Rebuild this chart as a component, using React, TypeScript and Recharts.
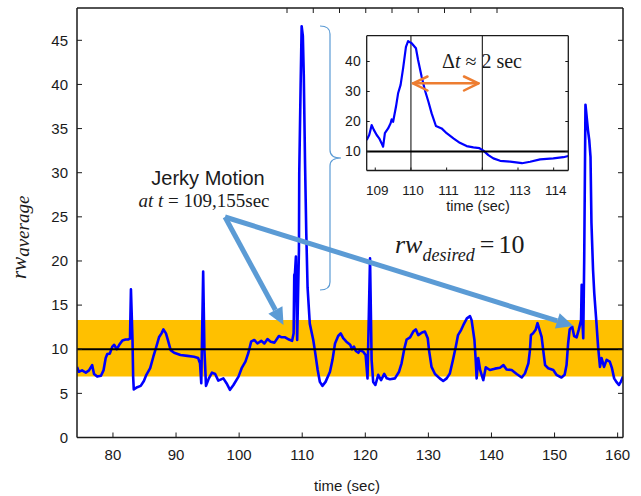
import { LineChart, Line, XAxis, YAxis, ReferenceArea, ReferenceLine } from 'recharts'

// main trace: time (sec) and rw_average
const TIME = [
  74.3, 74.6, 75.1, 75.7, 76.2, 76.7, 77.0, 77.5, 78.1, 78.5, 78.85, 79.1, 79.5, 79.9, 80.2, 80.6, 81.0, 81.5, 82.0, 82.4,
  82.7, 82.85, 83.1, 83.2, 83.3, 83.85, 84.4, 84.9, 85.3, 85.9, 86.4, 86.8, 87.3, 87.7, 88.0, 88.4, 88.7, 89.15, 89.7, 90.7,
  91.8, 92.85, 93.5, 93.8, 94.0, 94.3, 94.5, 94.75, 95.2, 95.7, 96.2, 96.7, 97.5, 98.0, 98.55, 99.1, 99.9, 100.4, 101.0, 101.45,
  101.9, 102.4, 102.9, 103.5, 104.0, 104.5, 105.0, 105.6, 106.3, 106.75, 107.3, 107.9, 108.4, 108.64, 108.74, 108.85, 109.0, 109.2, 109.48, 109.53,
  109.75, 109.91, 110.1, 110.25, 110.45, 110.65, 110.85, 111.2, 111.75, 112.0, 112.45, 112.8, 113.2, 113.7, 114.4, 114.8, 115.2, 115.7, 116.1, 116.5,
  117.0, 117.6, 117.9, 118.2, 118.5, 118.9, 119.15, 119.7, 120.05, 120.35, 120.75, 121.0, 121.25, 121.6, 122.05, 122.5, 123.0, 123.4, 123.9, 124.7,
  125.35, 125.75, 126.2, 126.55, 127.1, 127.6, 128.0, 128.4, 129.0, 129.45, 129.9, 130.1, 130.5, 131.05, 131.8, 132.35, 132.9, 133.4, 133.9, 134.35,
  134.7, 135.2, 135.55, 136.1, 136.6, 136.85, 137.3, 137.5, 137.65, 137.9, 138.2, 138.7, 139.1, 139.75, 140.55, 141.35, 141.9, 142.4, 143.2, 144.0,
  144.8, 145.3, 145.85, 146.1, 146.25, 146.6, 147.0, 147.3, 147.7, 147.95, 148.2, 148.5, 149.0, 149.8, 150.3, 151.1, 151.6, 151.9, 152.15, 152.4,
  152.8, 153.1, 153.5, 153.85, 154.2, 154.3, 154.4, 154.55, 154.7, 154.9, 155.3, 155.5, 155.7, 155.85, 156.1, 156.3, 156.65, 156.9, 157.2, 157.45,
  157.85, 158.25, 158.75, 159.1, 159.45, 159.8, 160.2, 160.5, 160.85,
]
const RW_AVERAGE = [
  8.0, 7.45, 7.6, 7.35, 7.6, 8.2, 7.2, 6.9, 7.0, 7.6, 9.0, 9.45, 9.5, 10.3, 10.5, 10.0, 10.5, 11.0, 11.1, 11.1,
  11.2, 16.8, 11.0, 6.9, 5.45, 5.7, 5.85, 6.4, 7.1, 7.85, 9.15, 10.1, 11.35, 11.8, 12.25, 11.8, 11.05, 9.9, 9.6, 9.35,
  9.25, 9.15, 9.0, 8.4, 6.15, 18.8, 9.9, 5.85, 6.7, 7.35, 7.2, 6.45, 6.7, 6.15, 5.4, 5.95, 6.9, 7.85, 8.6, 9.55,
  10.85, 11.05, 10.65, 10.95, 10.65, 11.15, 10.85, 10.75, 11.5, 11.35, 11.35, 11.1, 10.95, 11.8, 18.4, 18.6, 20.5, 11.05, 21.2, 30,
  40, 46.6, 45.5, 41, 31, 23, 17, 12.9, 11.05, 9.9, 7.65, 6.3, 5.85, 6.3, 7.45, 8.8, 10.65, 11.5, 11.8, 11.25,
  10.85, 10.5, 10.0, 10.3, 9.8, 9.6, 9.9, 9.7, 9.35, 6.7, 20.3, 8.8, 6.3, 5.95, 7.1, 6.5, 7.2, 6.7, 6.6, 6.7,
  7.45, 8.4, 10.1, 11.1, 11.35, 12.0, 12.25, 11.6, 11.9, 12.0, 11.25, 9.9, 8.0, 7.2, 6.7, 6.4, 6.7, 7.25, 8.8, 10.3,
  11.6, 12.2, 12.75, 13.5, 13.75, 13.3, 11.05, 8.8, 6.7, 9.0, 7.65, 6.5, 7.95, 7.65, 7.8, 7.9, 8.2, 7.7, 7.65, 7.2,
  6.8, 7.25, 8.4, 9.9, 11.6, 11.8, 12.2, 12.95, 12.0, 11.4, 9.9, 8.2, 7.85, 7.65, 7.1, 6.8, 7.1, 8.2, 10.65, 12.25,
  12.55, 11.5, 11.35, 12.25, 13.3, 17.3, 13.3, 11.25, 20.1, 37.7, 34.8, 33.7, 31.8, 24.3, 19.0, 16.3, 12.9, 10.3, 8.0, 9.0,
  8.0, 8.8, 8.6, 7.85, 6.7, 6.3, 5.95, 6.3, 6.9,
]

// zoomed inset around the jerk at t = 109..114
const INSET_TIME = [
  108.76, 108.83, 108.9, 108.96, 109.04, 109.11, 109.18, 109.22, 109.27, 109.36, 109.43, 109.46, 109.5, 109.58, 109.64,
  109.71, 109.78, 109.86, 109.92, 110.02, 110.14, 110.2, 110.3, 110.39, 110.49, 110.58, 110.7, 110.86, 111.0, 111.19,
  111.37, 111.56, 111.75, 111.92, 112.03, 112.17, 112.31, 112.5, 112.78, 113.11, 113.34, 113.62, 113.99, 114.27, 114.41,
]
const INSET_RW = [
  13.8, 15.5, 18.8, 17.2, 15.5, 14.4, 12.7, 11.6, 16.1, 17.7, 19.4, 20.7, 19.9, 24.9, 29.4,
  32.2, 37.7, 44.9, 46.8, 46.1, 44.4, 40.5, 34.9, 30.5, 26.6, 22.7, 18.5, 17.7, 16.1, 14.4,
  12.9, 11.8, 11.4, 11.1, 10.3, 8.8, 7.7, 6.9, 6.6, 6.1, 6.6, 7.4, 7.7, 8.1, 8.5,
]

const X_TICKS = [80, 90, 100, 110, 120, 130, 140, 150, 160]
const Y_TICKS = [0, 5, 10, 15, 20, 25, 30, 35, 40, 45]
const INSET_X_TICKS = [109, 110, 111, 112, 113, 114]
const INSET_Y_TICKS = [10, 20, 30, 40]
const COMFORT_BAND = [6.9, 13.3]
const RW_DESIRED = 10
const JERK_MARKS = [110, 112]

const INK = '#1a1a1a'
const BLUE = '#0000ff'
const ARROW = '#5b9bd5'
const SANS = '"Liberation Sans", Arial, sans-serif'
const SERIF = '"Liberation Serif", "Times New Roman", serif'

const mainData = TIME.map((t, i) => ({ t, rw: RW_AVERAGE[i] }))
const insetData = INSET_TIME.map((t, i) => ({ t, rw: INSET_RW[i] }))

type Side = 'bottom' | 'top' | 'left' | 'right'

// inward tick marks, label outside
function tickMark(side: Side, len: number, label?: { size: number; gap: number; shift?: number }) {
  return function Tick(props: any) {
    const { x, y, payload } = props
    const dx = side === 'left' ? len : side === 'right' ? -len : 0
    const dy = side === 'bottom' ? -len : side === 'top' ? len : 0
    return (
      <g>
        <line x1={x} y1={y} x2={x + dx} y2={y + dy} stroke={INK} strokeWidth={1} />
        {label && side === 'bottom' && (
          <text x={x + (label.shift ?? 0)} y={y + label.gap} textAnchor="middle" fontSize={label.size} fontFamily={SANS} fill={INK}>
            {payload.value}
          </text>
        )}
        {label && side === 'left' && (
          <text x={x - label.gap} y={y + label.size * 0.35} textAnchor="end" fontSize={label.size} fontFamily={SANS} fill={INK}>
            {payload.value}
          </text>
        )}
      </g>
    )
  }
}

function BlockArrow({ from, to }: { from: [number, number]; to: [number, number] }) {
  const [x1, y1] = from
  const [x2, y2] = to
  const len = Math.hypot(x2 - x1, y2 - y1)
  const ux = (x2 - x1) / len
  const uy = (y2 - y1) / len
  const head = 17
  const half = 8
  const bx = x2 - ux * head
  const by = y2 - uy * head
  return (
    <g>
      <line x1={x1} y1={y1} x2={bx} y2={by} stroke={ARROW} strokeWidth={5} />
      <polygon points={`${x2},${y2} ${bx - uy * half},${by + ux * half} ${bx + uy * half},${by - ux * half}`} fill={ARROW} />
    </g>
  )
}

const frame = { stroke: INK, strokeWidth: 1.5 }
const insetFrame = { stroke: INK, strokeWidth: 1.3 }

function MainChart() {
  return (
    <LineChart width={641} height={496} data={mainData} margin={{ top: 7, right: 17, bottom: 57.5, left: 76 }}>
      <XAxis dataKey="t" type="number" domain={[74.3, 160.85]} ticks={X_TICKS} interval={0} allowDataOverflow
        height={1} tickSize={0} tickMargin={0} axisLine={frame} tickLine={false} tick={tickMark('bottom', 5, { size: 15, gap: 22 })} />
      <XAxis xAxisId="top" orientation="top" type="number" domain={[74.3, 160.85]} ticks={X_TICKS} interval={0} allowDataOverflow
        height={1} tickSize={0} tickMargin={0} axisLine={frame} tickLine={false} tick={tickMark('top', 5)} />
      <YAxis type="number" domain={[0, 48.66]} ticks={Y_TICKS} interval={0} allowDataOverflow
        width={1} tickSize={0} tickMargin={0} axisLine={frame} tickLine={false} tick={tickMark('left', 5, { size: 15, gap: 9 })} />
      <YAxis yAxisId="right" orientation="right" type="number" domain={[0, 48.66]} ticks={Y_TICKS} interval={0} allowDataOverflow
        width={1} tickSize={0} tickMargin={0} axisLine={frame} tickLine={false} tick={tickMark('right', 5)} />
      <ReferenceArea y1={COMFORT_BAND[0]} y2={COMFORT_BAND[1]} fill="#ffc000" fillOpacity={1} stroke="none" />
      <Line dataKey="rw" type="linear" stroke={BLUE} strokeWidth={2.6} dot={false} activeDot={false} isAnimationActive={false} strokeLinejoin="round" />
      <ReferenceLine y={RW_DESIRED} stroke="#000" strokeWidth={2.2} />
    </LineChart>
  )
}

function InsetChart() {
  return (
    <LineChart width={260} height={200} data={insetData} margin={{ top: 14.7, right: 10.7, bottom: 48.5, left: 45.7 }}>
      <XAxis dataKey="t" type="number" domain={[108.76, 114.41]} ticks={INSET_X_TICKS} interval={0} allowDataOverflow
        height={1} tickSize={0} tickMargin={0} axisLine={insetFrame} tickLine={false} tick={tickMark('bottom', 3, { size: 13.5, gap: 24, shift: 2 })} />
      <XAxis xAxisId="top" orientation="top" type="number" domain={[108.76, 114.41]} ticks={INSET_X_TICKS} interval={0} allowDataOverflow
        height={1} tickSize={0} tickMargin={0} axisLine={insetFrame} tickLine={false} tick={tickMark('top', 3)} />
      <YAxis type="number" domain={[3.67, 48.6]} ticks={INSET_Y_TICKS} interval={0} allowDataOverflow
        width={1} tickSize={0} tickMargin={0} axisLine={insetFrame} tickLine={false} tick={tickMark('left', 3, { size: 14, gap: 6 })} />
      <YAxis yAxisId="right" orientation="right" type="number" domain={[3.67, 48.6]} ticks={INSET_Y_TICKS} interval={0} allowDataOverflow
        width={1} tickSize={0} tickMargin={0} axisLine={insetFrame} tickLine={false} tick={tickMark('right', 3)} />
      {JERK_MARKS.map((x) => (
        <ReferenceLine key={x} x={x} stroke="#000" strokeWidth={1} />
      ))}
      <Line dataKey="rw" type="linear" stroke={BLUE} strokeWidth={2.2} dot={false} activeDot={false} isAnimationActive={false} strokeLinejoin="round" />
      <ReferenceLine y={RW_DESIRED} stroke="#000" strokeWidth={2} />
    </LineChart>
  )
}

function Annotations() {
  return (
    <svg width={641} height={496} style={{ position: 'absolute', left: 0, top: 0, pointerEvents: 'none' }}>
      {/* axis titles */}
      <text transform="translate(26,279) rotate(-90)" fontFamily={SERIF} fontStyle="italic" fill={INK}>
        <tspan fontSize={21}>rw</tspan>
        <tspan fontSize={19} dy={3}>average</tspan>
      </text>
      <text x={347} y={491} textAnchor="middle" fontSize={15} fontFamily={SANS} fill={INK}>time (sec)</text>

      {/* jerk callout */}
      <text x={208} y={185} textAnchor="middle" fontSize={20} fontFamily={SANS} fill={INK}>Jerky Motion</text>
      <text x={204} y={207} textAnchor="middle" fontSize={19} fontFamily={SERIF} fill={INK}>
        <tspan fontStyle="italic">at t</tspan>
        <tspan> = 109,155sec</tspan>
      </text>
      <BlockArrow from={[225, 217]} to={[283.5, 325]} />
      <BlockArrow from={[225, 217]} to={[573.5, 326]} />

      {/* brace toward the inset */}
      <path d="M320,26 Q330,26 330,34 L330,150 Q330,158 341,158 Q330,158 330,166 L330,282 Q330,290 320,290"
        fill="none" stroke={ARROW} strokeWidth={1.2} />

      <text x={395} y={253} fontFamily={SERIF} fill={INK}>
        <tspan fontSize={26} fontStyle="italic">rw</tspan>
        <tspan fontSize={18} fontStyle="italic" dy={8}>desired</tspan>
        <tspan fontSize={26} dy={-8} dx={5}>=</tspan>
        <tspan fontSize={26} dx={4}>10</tspan>
      </text>

      {/* inset labels */}
      <text x={478} y={210.5} textAnchor="middle" fontSize={14.5} fontFamily={SANS} fill={INK}>time (sec)</text>
      <text x={442} y={68} fontSize={20} fontFamily={SERIF} fill={INK}>
        <tspan>Δ</tspan>
        <tspan fontStyle="italic">t</tspan>
        <tspan> ≈ 2 sec</tspan>
      </text>
      <g stroke="#ed7d31" strokeWidth={2.5} fill="none" strokeLinecap="round" strokeLinejoin="round">
        <line x1={413} y1={83.3} x2={478.5} y2={83.3} />
        <polyline points="427.5,76.5 413,83.3 427.5,90.5" />
        <polyline points="464,76.5 478.5,83.3 464,90.5" />
      </g>
    </svg>
  )
}

export default function App() {
  return (
    <div style={{ position: 'absolute', left: 0, top: 0, width: 641, height: 496, background: '#fff' }}>
      <MainChart />
      <div style={{ position: 'absolute', left: 320, top: 20 }}>
        <InsetChart />
      </div>
      <Annotations />
    </div>
  )
}
